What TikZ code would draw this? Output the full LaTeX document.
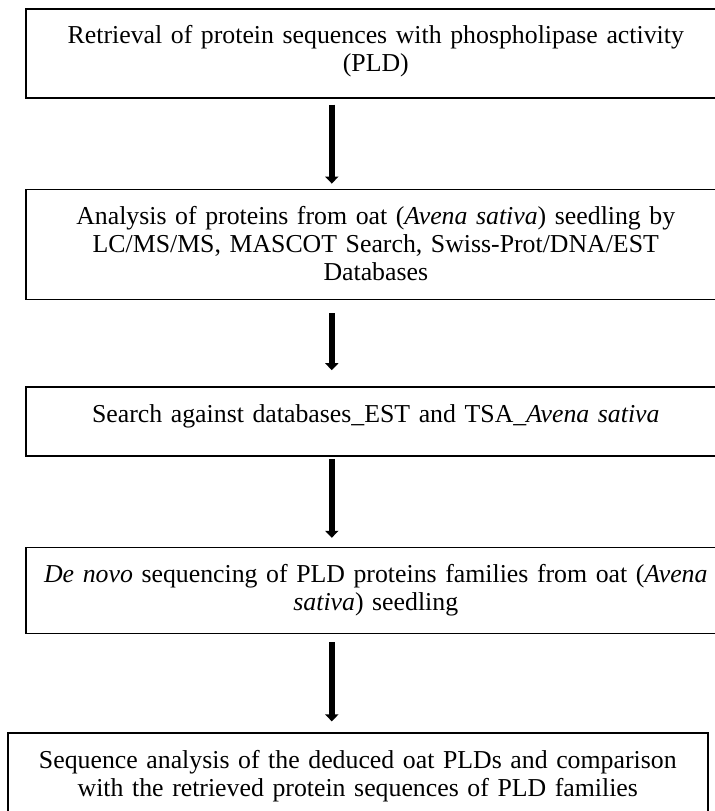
\documentclass[tikz,border=0pt]{standalone}
\usepackage{fontspec}
\setmainfont{Liberation Serif}
\usetikzlibrary{%
  positioning,
  arrows.meta,
}

\begin{document}
\begin{tikzpicture}[%
           node distance=45pt,
           stage/.style={
             % The shape:
             rectangle,
             % The border:
             draw=black,
             line width=0.8pt,
             % The size:
             minimum width=350pt,
             text width=346pt,
             inner xsep=2pt,
             inner ysep=0pt,
             % The text, set at the top of the box:
             align=center,
             font=\fontsize{12.9pt}{14pt}\selectfont,
             text height=17.5pt,
           },
           flow/.style={
             -{Triangle[width=6.5pt,length=3.5pt]},
             line width=2.8pt,
             color=black,
           }]

         \useasboundingbox (0,0) rectangle (357.5pt,-405.5pt);

         \node[stage, text depth=27pt, anchor=north west] (retrieval) at (12.5pt,-4pt)
           {Retrieval of protein sequences with phospholipase activity\\ (PLD)};
         \node[stage, text depth=37.5pt] (analysis) [below=of retrieval]
           {Analysis of proteins from oat (\textit{Avena sativa}) seedling by\\
            LC/MS/MS, MASCOT Search, Swiss-Prot/DNA/EST\\ Databases};
         \node[stage, text depth=17pt] (search) [below=43pt of analysis]
           {Search against databases\_EST and TSA\_\textit{Avena sativa}};
         \node[stage, text depth=25.5pt] (denovo) [below=of search]
           {\textit{De novo} sequencing of PLD proteins families from oat (\textit{Avena}\\
            \textit{sativa}) seedling};
         \node[stage, text depth=32.5pt] (comparison) [below=49pt of denovo, xshift=-9pt]
           {Sequence analysis of the deduced oat PLDs and comparison\\
            with the retrieved protein sequences of PLD families};

         \draw[flow, shorten <=3pt, shorten >=2.5pt] ([xshift=-22pt]retrieval.south) -- ([xshift=-22pt]analysis.north);
         \draw[flow, shorten <=6.5pt, shorten >=8pt] ([xshift=-22pt]analysis.south) -- ([xshift=-22pt]search.north);
         \draw[flow, shorten <=1pt, shorten >=4.5pt] ([xshift=-22pt]search.south) -- ([xshift=-22pt]denovo.north);
         \draw[flow, shorten <=4pt, shorten >=5.5pt] ([xshift=-22pt]denovo.south) -- ([xshift=-22pt]denovo.south |- comparison.north);

     \end{tikzpicture}
\end{document}
